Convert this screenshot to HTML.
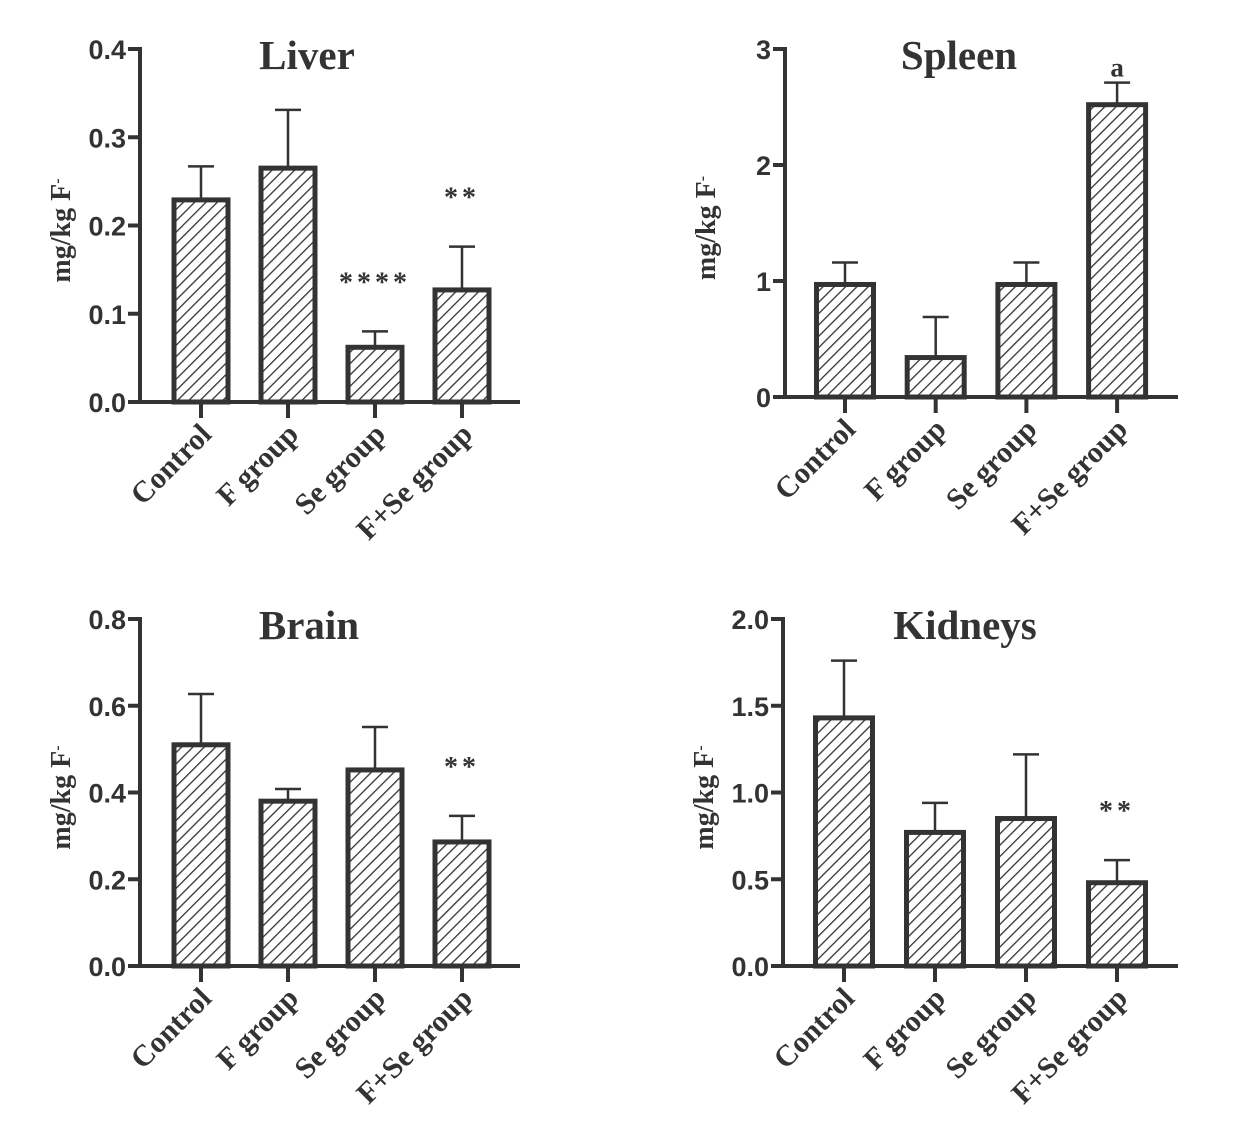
<!DOCTYPE html>
<html><head><meta charset="utf-8"><style>
html,body{margin:0;padding:0;background:#fff;}
svg{display:block;}
</style></head><body>
<svg id="fig" width="1238" height="1148" viewBox="0 0 1238 1148" xmlns="http://www.w3.org/2000/svg">
<defs>
<pattern id="hatch" patternUnits="userSpaceOnUse" width="8" height="8" patternTransform="rotate(45)">
<rect width="8" height="8" fill="#fff"/>
<line x1="0" y1="0" x2="0" y2="8" stroke="#333" stroke-width="2.6"/>
</pattern>
</defs>
</svg>
<script>
const categories = ["Control", "F group", "Se group", "F+Se group"];
const liverValues = [0.229, 0.265, 0.062, 0.127];
const liverErrors = [0.267, 0.331, 0.080, 0.176];
const liverMarks = ["", "", "****", "**"];
const liverTicks = ["0.0", "0.1", "0.2", "0.3", "0.4"];
const spleenValues = [0.97, 0.34, 0.97, 2.52];
const spleenErrors = [1.16, 0.69, 1.16, 2.71];
const spleenMarks = ["", "", "", "a"];
const spleenTicks = ["0", "1", "2", "3"];
const brainValues = [0.51, 0.38, 0.452, 0.286];
const brainErrors = [0.627, 0.408, 0.551, 0.346];
const brainMarks = ["", "", "", "**"];
const brainTicks = ["0.0", "0.2", "0.4", "0.6", "0.8"];
const kidneyValues = [1.43, 0.77, 0.85, 0.48];
const kidneyErrors = [1.76, 0.94, 1.22, 0.61];
const kidneyMarks = ["", "", "", "**"];
const kidneyTicks = ["0.0", "0.5", "1.0", "1.5", "2.0"];

const NS = "http://www.w3.org/2000/svg";
const svg = document.getElementById("fig");
function mk(tag, attrs, parent) {
  const e = document.createElementNS(NS, tag);
  for (const k in attrs) e.setAttribute(k, attrs[k]);
  (parent || svg).appendChild(e);
  return e;
}

function panel(cfg) {
  const g = mk("g", {});
  
  
  const ticks = cfg.ticks.map(Number);
  const ymax = ticks[ticks.length - 1];
  const y = v => cfg.y0 - (v / ymax) * (cfg.y0 - cfg.yTop);
  const x = i => cfg.cx0 + i * cfg.step;
  const C = "#333";
  cfg.values.forEach((v, i) => {
    const eb = mk("line", {x1: x(i), x2: x(i), y1: y(v), y2: y(cfg.errors[i]), stroke: C, "stroke-width": 2.5}, g);
    
    
    const cap = mk("line", {x1: x(i) - 13, x2: x(i) + 13, y1: y(cfg.errors[i]), y2: y(cfg.errors[i]), stroke: C, "stroke-width": 2.5}, g);
    
    
    const r = mk("rect", {x: x(i) - cfg.bw / 2, y: y(v), width: cfg.bw, height: cfg.y0 - y(v), fill: "url(#hatch)", stroke: C, "stroke-width": 5}, g);
    
    
    if (cfg.marks[i]) {
      const isA = cfg.marks[i] === "a";
      const t = mk("text", {x: x(i), y: y(cfg.errors[i]) - (isA ? 6 : 40), "text-anchor": "middle", "font-family": "Liberation Serif, serif", "font-weight": "bold", "font-size": isA ? 27 : 28, fill: C, "letter-spacing": isA ? 0 : 4}, g);
      t.textContent = cfg.marks[i];
      
      
    }
    const tk = mk("line", {x1: x(i), x2: x(i), y1: cfg.y0, y2: cfg.y0 + 16, stroke: C, "stroke-width": 4}, g);
    
    
    const lx = x(i) + 12, ly = cfg.y0 + 34;
    const lb = mk("text", {x: lx, y: ly, "text-anchor": "end", "font-family": "Liberation Serif, serif", "font-weight": "bold", "font-size": 30, fill: C, transform: `rotate(-45 ${lx} ${ly})`}, g);
    lb.textContent = categories[i];
    
    
  });
  const ya = mk("line", {x1: cfg.ax, x2: cfg.ax, y1: cfg.yTop - 2, y2: cfg.y0 + 2, stroke: C, "stroke-width": 4}, g);
  
  
  const xa = mk("line", {x1: cfg.ax - 12, x2: cfg.xEnd, y1: cfg.y0, y2: cfg.y0, stroke: C, "stroke-width": 4}, g);
  
  
  cfg.ticks.forEach(t => {
    const yy = y(Number(t));
    const l = mk("line", {x1: cfg.ax - 12, x2: cfg.ax, y1: yy, y2: yy, stroke: C, "stroke-width": 4}, g);
    
    
    const tx = mk("text", {x: cfg.ax - 14, y: yy + 10, "text-anchor": "end", "font-family": "Liberation Sans, sans-serif", "font-weight": "bold", "font-size": 27, fill: C}, g);
    tx.textContent = t;
    
    
  });
  const ty = (cfg.yTop + cfg.y0) / 2 + 5;
  const yx = cfg.ax - 70;
  const yt = mk("text", {x: yx, y: ty, "text-anchor": "middle", "font-family": "Liberation Serif, serif", "font-weight": "bold", "font-size": 28, fill: C, transform: `rotate(-90 ${yx} ${ty})`}, g);
  yt.textContent = "mg/kg F";
  const sup = mk("tspan", {"baseline-shift": "super", "font-size": 16}, yt);
  sup.textContent = "-";
  
  
  const ti = mk("text", {x: cfg.titleX, y: cfg.yTop + 20, "text-anchor": "middle", "font-family": "Liberation Serif, serif", "font-weight": "bold", "font-size": 41, fill: C}, g);
  ti.textContent = cfg.title;
  
  
}

panel({name: "liver", title: "Liver", values: liverValues, errors: liverErrors, marks: liverMarks, ticks: liverTicks,
  ax: 140, xEnd: 520, yTop: 49, y0: 402, cx0: 201, step: 87, bw: 54, titleX: 307});
panel({name: "spleen", title: "Spleen", values: spleenValues, errors: spleenErrors, marks: spleenMarks, ticks: spleenTicks,
  ax: 785, xEnd: 1178, yTop: 49, y0: 397, cx0: 845, step: 90.7, bw: 57, titleX: 959});
panel({name: "brain", title: "Brain", values: brainValues, errors: brainErrors, marks: brainMarks, ticks: brainTicks,
  ax: 140, xEnd: 520, yTop: 619, y0: 966, cx0: 201, step: 87, bw: 54, titleX: 309});
panel({name: "kidneys", title: "Kidneys", values: kidneyValues, errors: kidneyErrors, marks: kidneyMarks, ticks: kidneyTicks,
  ax: 783, xEnd: 1178, yTop: 619, y0: 966, cx0: 844, step: 91, bw: 57, titleX: 965});
</script>
</body></html>
